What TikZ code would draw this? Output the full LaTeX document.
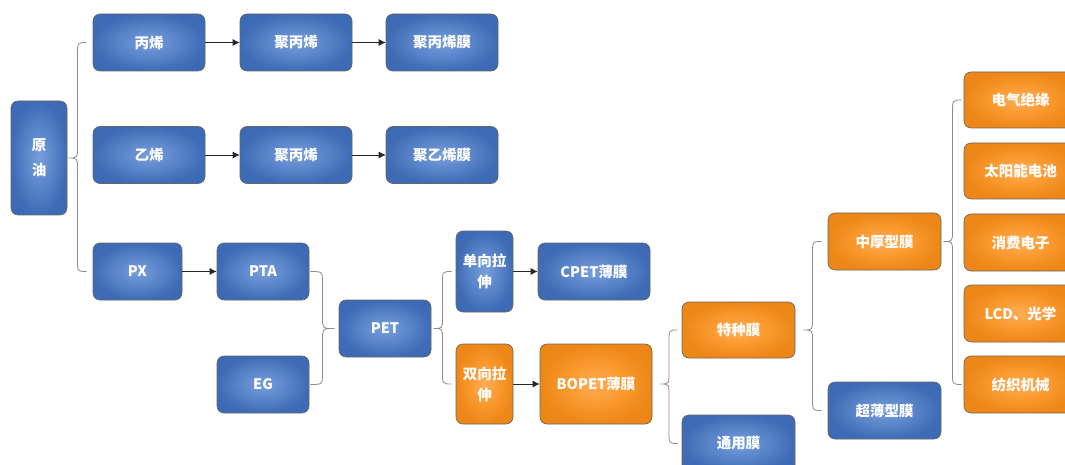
\documentclass[tikz,border=0pt]{standalone}
\usepackage{fontspec}
\setmainfont{Noto Sans CJK SC}
\usetikzlibrary{calc,arrows.meta}
\pgfdeclareradialshading{blueglow}{\pgfpoint{0bp}{0bp}}{rgb(0bp)=(0.47,0.62,0.86); rgb(13bp)=(0.35,0.52,0.79); rgb(25bp)=(0.24,0.42,0.71); rgb(50bp)=(0.23,0.40,0.69)}
\pgfdeclareradialshading{orangeglow}{\pgfpoint{0bp}{0bp}}{rgb(0bp)=(1.0,0.68,0.34); rgb(13bp)=(0.98,0.60,0.18); rgb(25bp)=(0.93,0.53,0.09); rgb(50bp)=(0.91,0.51,0.08)}
\tikzset{
  box/.style={rounded corners=7pt, draw=black!60, line width=0.6pt, text=white,
    font=\bfseries\fontsize{14.5}{21}\selectfont, inner sep=0pt, align=center,
    minimum height=57pt, minimum width=112pt},
  bluebox/.style={box, shading=blueglow},
  orangebox/.style={box, shading=orangeglow},
  arr/.style={draw=black!85, line width=0.8pt, -{Latex[length=7pt,width=7pt]}},
  brace/.style={draw=black!45, line width=0.8pt}
}
\newcommand\brc[3]{%
  \draw[brace] let \p1=#2, \p2=#1, \p3=#3, \p4=($#2!0.5!#1$) in
    (\p2) .. controls (\x4,\y2) .. (\x4,\y2-12pt) -- (\x4,\y1+11pt)
    .. controls (\x4,\y1) .. (\p1)
    .. controls (\x4,\y1) .. (\x4,\y1-11pt) -- (\x4,\y3+12pt)
    .. controls (\x4,\y3) .. (\p3);}
\begin{document}
\begin{tikzpicture}[x=1pt,y=-1pt]
\useasboundingbox (0,0) rectangle (1065,465);
\clip (0,0) rectangle (1065,465);
\fill[white] (0,0) rectangle (1065,465);
% nodes
\node[bluebox, minimum width=56pt, minimum height=114pt] (yy) at (39,158) {原\\[4pt]油};
\node[bluebox] (bx) at (149,42.5) {丙烯};
\node[bluebox] (jb1) at (296,42.5) {聚丙烯};
\node[bluebox] (jbm) at (442,42.5) {聚丙烯膜};
\node[bluebox] (yx) at (149,155) {乙烯};
\node[bluebox] (jb2) at (296,155) {聚丙烯};
\node[bluebox] (jym) at (442,155) {聚乙烯膜};
\node[bluebox, minimum width=89pt] (px) at (137.5,271.5) {PX};
\node[bluebox, minimum width=92pt] (pta) at (263,271.5) {PTA};
\node[bluebox, minimum width=92pt] (eg) at (263,384.5) {EG};
\node[bluebox, minimum width=92pt] (pet) at (385,328.5) {PET};
\node[bluebox, minimum width=57pt, minimum height=81pt] (dx) at (484.5,271.5) {单向拉\\伸};
\node[orangebox, minimum width=57pt, minimum height=80pt] (sx) at (484.5,384) {双向拉\\伸};
\node[bluebox] (cpet) at (594,271.5) {CPET薄膜};
\node[orangebox, minimum height=80pt] (bopet) at (596,384) {BOPET薄膜};
\node[orangebox, minimum width=113pt, minimum height=56pt] (tz) at (738.5,330) {特种膜};
\node[bluebox, minimum width=113pt] (ty) at (738.5,443.5) {通用膜};
\node[orangebox, minimum width=113pt] (zh) at (884.5,241.5) {中厚型膜};
\node[bluebox, minimum width=113pt] (cb) at (884.5,410.5) {超薄型膜};
\node[orangebox, minimum width=113pt, minimum height=56pt] (r1) at (1020.5,100) {电气绝缘};
\node[orangebox, minimum width=113pt, minimum height=56pt] (r2) at (1020.5,171) {太阳能电池};
\node[orangebox, minimum width=113pt] (r3) at (1020.5,242.5) {消费电子};
\node[orangebox, minimum width=113pt] (r4) at (1020.5,313.5) {LCD、光学};
\node[orangebox, minimum width=113pt] (r5) at (1020.5,384.5) {纺织机械};
% arrows
\draw[arr] (bx.east) -- (jb1.west);
\draw[arr] (jb1.east) -- (jbm.west);
\draw[arr] (yx.east) -- (jb2.west);
\draw[arr] (jb2.east) -- (jym.west);
\draw[arr] (px.east) -- (pta.west);
\draw[arr] (dx.east) -- (cpet.west);
\draw[arr] (sx.east) -- (bopet.west);
% braces
\brc{($(bx.west)+(-6,0)$)}{($(yy.east)+(1,0)$)}{($(px.west)+(-6,0)$)}
\brc{($(pta.east)+(1,0)$)}{($(pet.west)+(-4,0)$)}{($(eg.east)+(1,0)$)}
\brc{($(dx.west)+(-4,0)$)}{($(pet.east)+(2,0)$)}{($(sx.west)+(-4,0)$)}
\brc{($(tz.west)+(-4,0)$)}{($(bopet.east)+(8,0)$)}{($(ty.west)+(-4,0)$)}
\brc{($(zh.west)+(-6,0)$)}{($(tz.east)+(8,0)$)}{($(cb.west)+(-6,0)$)}
\brc{($(r1.west)+(-2,0)$)}{($(zh.east)+(2,0)$)}{($(r5.west)+(-2,0)$)}
\end{tikzpicture}
\end{document}
